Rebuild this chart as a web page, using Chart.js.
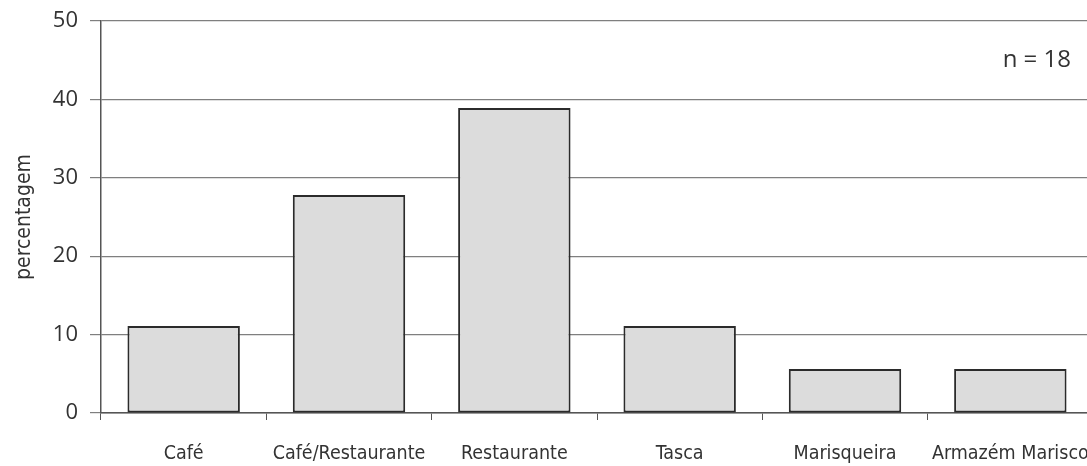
<!DOCTYPE html>
<html>
<head>
<meta charset="utf-8">
<script src="https://cdn.jsdelivr.net/npm/chart.js@4/dist/chart.umd.min.js"></script>
<style>
  html, body { margin: 0; padding: 0; background: #fff; overflow: hidden; }
  #wrap { width: 1100px; height: 466px; }
</style>
</head>
<body>
<div id="wrap"><canvas id="chart"></canvas></div>
<script>
var categories = ["Café", "Café/Restaurante", "Restaurante", "Tasca", "Marisqueira", "Armazém Marisco"];
var percentages = [11.1, 27.8, 38.9, 11.1, 5.6, 5.6];
var yTicks = [0, 10, 20, 30, 40, 50];
var sampleNote = "n = 18";

var narrow = '"DejaVu Sans Condensed", "Open Sans", sans-serif';

var noteLabel = {
    id: 'noteLabel',
    afterDraw: function (chart) {
        var c = chart.ctx;
        var y = chart.scales.y.getPixelForValue(45);
        c.save();
        c.font = '24px "Open Sans"';
        c.fillStyle = '#333';
        c.textAlign = 'right';
        c.textBaseline = 'middle';
        c.fillText(sampleNote, chart.chartArea.right - 22, y);
        c.restore();
    }
};

var ctx = document.getElementById("chart").getContext('2d');
var myChart = new Chart(ctx, {
    type: 'bar',
    data: {
        labels: categories,
        datasets: [{
            label: 'percentagem',
            data: percentages,
            backgroundColor: '#dcdcdc',
            borderColor: '#2b2b2b',
            borderWidth: 2,
            borderSkipped: false,
            categoryPercentage: 1,
            barPercentage: 0.68
        }]
    },
    options: {
        responsive: true,
        maintainAspectRatio: false,
        animation: false,
        layout: { padding: { top: 21, right: 7 } },
        plugins: {
            legend: { display: false },
            tooltip: { enabled: false }
        },
        scales: {
            x: {
                afterFit: function (s) { s.height = 53; s.paddingLeft = 0; s.paddingRight = 0; },
                border: { color: '#555', width: 1.5 },
                grid: { drawOnChartArea: false, tickLength: 7, color: '#555', lineWidth: 1 },
                ticks: {
                    color: '#333', padding: 22, maxRotation: 0, autoSkip: false,
                    font: { family: narrow, size: 19.5 }
                }
            },
            y: {
                min: 0,
                max: 50,
                afterBuildTicks: function (s) { s.ticks = yTicks.map(function (v) { return { value: v }; }); },
                afterFit: function (s) { s.width = 101; s.paddingTop = 0; s.paddingBottom = 0; },
                border: { color: '#555', width: 1.5 },
                grid: { color: '#7f7f7f', lineWidth: 1.2, tickLength: 11 },
                ticks: { color: '#333', padding: 12, font: { family: 'Open Sans', size: 22 } },
                title: {
                    display: true,
                    text: 'percentagem',
                    color: '#333',
                    padding: { top: 12, bottom: 0 },
                    font: { family: narrow, size: 21 }
                }
            }
        }
    },
    plugins: [noteLabel]
});
</script>
</body>
</html>
